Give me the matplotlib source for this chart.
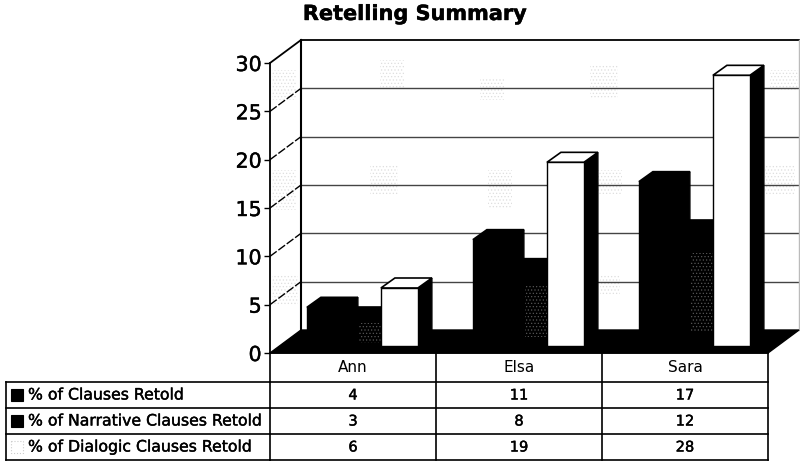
import matplotlib
matplotlib.use("Agg")
import matplotlib.pyplot as plt
import matplotlib.patheffects as pe
from matplotlib.patches import Rectangle

students = ["Ann", "Elsa", "Sara"]
series_names = ["% of Clauses Retold", "% of Narrative Clauses Retold", "% of Dialogic Clauses Retold"]
clauses = [4, 11, 17]
narrative = [3, 8, 12]
dialogic = [6, 19, 28]
yticks = [0, 5, 10, 15, 20, 25, 30]

W, H = 800, 463
FONT = "DejaVu Sans"
plt.rcParams["hatch.linewidth"] = 0.5
fig = plt.figure(figsize=(W / 100, H / 100), dpi=100, facecolor="white")
thick = [pe.withStroke(linewidth=0.3, foreground="k")]

# overlay in pixel units, for table frame and legend
ov = fig.add_axes([0, 0, 1, 1], zorder=0)
ov.set_xlim(0, W); ov.set_ylim(H, 0); ov.axis("off")

# plot area: front plane of the oblique 3D box
L, R, T, B = 270, 768, 63, 353
ax = fig.add_axes([L / W, (H - B) / H, (R - L) / W, (B - T) / H], zorder=1)
ax.patch.set_alpha(0)
ax.set_xlim(0, 3); ax.set_ylim(0, 30)
px = 3 / (R - L)           # data per pixel, x
py = 30 / (B - T)          # data per pixel, y
wall_dx, wall_dy = 31 * px, 23 * py
bar_dx, bar_dy = 14 * px, 10 * py
off_dx, off_dy = 9.4 * px, 7 * py
bar_w = 37 * px

for s in ["top", "right", "bottom"]:
    ax.spines[s].set_visible(False)
ax.spines["left"].set_linewidth(1.3)
ax.set_xticks([])
ax.set_yticks(yticks)
ax.tick_params(axis="y", length=4, width=1, pad=2)
for t in ax.get_yticklabels():
    t.set_fontsize(14.8); t.set_fontfamily(FONT); t.set_path_effects(thick)

# walls
ax.plot([wall_dx, wall_dx], [wall_dy, 30 + wall_dy], color="k", lw=1.5, clip_on=False)
ax.plot([wall_dx, 3 + wall_dx], [30 + wall_dy] * 2, color="k", lw=1.3, clip_on=False)
ax.plot([0, wall_dx], [30, 30 + wall_dy], color="k", lw=1.3, clip_on=False)
for v in yticks[1:-1]:
    ax.plot([wall_dx, 3 + wall_dx], [v + wall_dy] * 2, color="#444444", lw=1.0, clip_on=False, zorder=1)
    ax.plot([0, wall_dx], [v, v + wall_dy], color="k", lw=1.0, ls=(0, (6, 1.5)), clip_on=False, zorder=1)
ax.plot([3 + wall_dx] * 2, [wall_dy, 30 + wall_dy], color="#bbbbbb", lw=1, clip_on=False)

# floor
ax.fill([0, 3, 3 + wall_dx, wall_dx], [0, 0, wall_dy, wall_dy], color="k", clip_on=False, zorder=2)

# faint scan speckle on the walls
speckle = [(380, 60, 24, 28), (370, 165, 28, 30), (480, 78, 24, 22), (488, 170, 24, 38),
           (590, 65, 28, 34), (272, 70, 24, 30), (272, 170, 24, 40), (272, 275, 26, 30),
           (598, 170, 24, 24), (765, 165, 30, 30), (600, 275, 20, 20), (770, 70, 28, 20)]
for x, y, w, h in speckle:
    ov.add_patch(Rectangle((x, y), w, h, fc="none", ec="#dedede", lw=0, hatch="....."))

# bars
z = 3
def bar3d(i, k, v, face):
    global z
    x0 = i + off_dx + (k - 1.5) * bar_w + 0.5
    y0 = off_dy
    edge = "k"
    ax.fill([x0 + bar_w, x0 + bar_w + bar_dx, x0 + bar_w + bar_dx, x0 + bar_w],
            [y0, y0 + bar_dy, y0 + v + bar_dy, y0 + v], color="k", clip_on=False, zorder=z)
    ax.fill([x0, x0 + bar_w, x0 + bar_w + bar_dx, x0 + bar_dx],
            [y0 + v, y0 + v, y0 + v + bar_dy, y0 + v + bar_dy], fc=face, ec=edge, lw=1.2,
            clip_on=False, zorder=z)
    ax.bar(x0, v, bar_w, bottom=y0, align="edge", color=face, ec=edge, lw=1.0,
           clip_on=False, zorder=z)
    z += 1
    return x0, y0

for i in range(3):
    bar3d(i, 0, clauses[i], "k")
    x0, y0 = bar3d(i, 1, narrative[i], "k")
    ax.add_patch(Rectangle((x0 + 0.4 * bar_w, y0 + 0.12 * narrative[i]), 0.6 * bar_w, 0.68 * narrative[i],
                           fc="none", ec="#555555", lw=0, hatch=".....", clip_on=False, zorder=z))
    z += 1
    bar3d(i, 2, dialogic[i], "white")

# title
ov.text(415, 14, "Retelling Summary", ha="center", va="center", fontsize=15,
        fontweight="bold", family=FONT, path_effects=thick)

# table
rows = [353, 382, 408, 434, 460]
cols = [L, 436, 602, R]
lw = 1.2
for y in rows:
    ov.plot([L, R], [y, y], color="k", lw=lw)
for y in rows[1:]:
    ov.plot([6, L], [y, y], color="k", lw=lw)
for x in cols:
    ov.plot([x, x], [rows[0], rows[-1]], color="k", lw=lw)
ov.plot([6, 6], [rows[1], rows[-1]], color="k", lw=lw)

for j, name in enumerate(students):
    cx = (cols[j] + cols[j + 1]) / 2
    ov.text(cx, (rows[0] + rows[1]) / 2, name, ha="center", va="center", fontsize=11, family=FONT)
    for r, vals in enumerate([clauses, narrative, dialogic]):
        ov.text(cx, (rows[r + 1] + rows[r + 2]) / 2, str(vals[j]), ha="center", va="center",
                fontsize=10.5, family=FONT, path_effects=thick)

for r, name in enumerate(series_names):
    ym = (rows[r + 1] + rows[r + 2]) / 2
    face = "white" if r == 2 else "k"
    edge = "#cccccc" if r == 2 else "k"
    ov.add_patch(Rectangle((11, ym - 6), 12, 12, fc=face, ec=edge, lw=0.8,
                           ls=":" if r == 2 else "-"))
    ov.text(28, ym, name, ha="left", va="center", fontsize=11.3, family=FONT, path_effects=thick)

fig.savefig("out.png", dpi=100, facecolor="white")
